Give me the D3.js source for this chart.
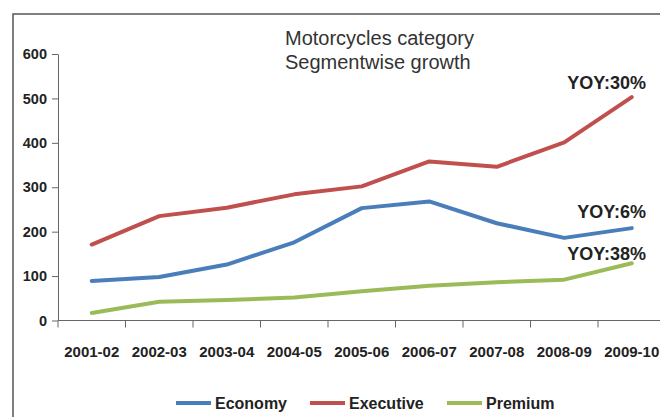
<!DOCTYPE html>
<html>
<head>
<meta charset="utf-8">
<script src="https://cdn.jsdelivr.net/npm/d3@7"></script>
<style>
  body { margin: 0; background: #fff; }
  svg text { font-family: "Liberation Sans", Arial, sans-serif; }
</style>
</head>
<body>
<div id="chart"></div>
<script>
var years = ["2001-02","2002-03","2003-04","2004-05","2005-06","2006-07","2007-08","2008-09","2009-10"];
var economy   = [89, 98, 126, 176, 253, 268, 219, 186, 208];
var executive = [171, 235, 254, 284, 302, 358, 346, 401, 503];
var premium   = [17, 42, 46, 52, 66, 78, 86, 92, 129];
var seriesNames = ["Economy", "Executive", "Premium"];
var yTicks = [0, 100, 200, 300, 400, 500, 600];
var yoyLabels = ["YOY:6%", "YOY:30%", "YOY:38%"];

var colors = d3.scaleOrdinal()
    .domain(seriesNames)
    .range(["#4a7ebb", "#c0504d", "#9bbb59"]);

var series = [economy, executive, premium].map(function(vals, i){
    return { name: seriesNames[i], values: vals, yoy: yoyLabels[i] };
});

var svg = d3.select("#chart").append("svg")
    .attr("width", 660)
    .attr("height", 417);

// outer frame (top and left edges show)
svg.append("path")
    .attr("d", "M13,417 L13,14 L660,14")
    .attr("fill", "none")
    .attr("stroke", "#555")
    .attr("stroke-width", 1.5);

var x = d3.scaleBand()
    .domain(years)
    .range([58, 58 + 9 * 67.5]);

var y = d3.scaleLinear()
    .domain([0, 600])
    .range([320.5, 54]);

// y axis
var yAxis = svg.append("g")
    .attr("transform", "translate(58,0)")
    .call(d3.axisLeft(y).tickValues(yTicks).tickSize(6).tickPadding(5).tickSizeOuter(0));
yAxis.select(".domain").attr("stroke", "#666");
yAxis.selectAll(".tick line").attr("stroke", "#666");
yAxis.selectAll("text")
    .attr("font-size", "14.5px")
    .attr("font-weight", "bold")
    .attr("fill", "#222")
    .attr("font-family", "Liberation Sans, Arial, sans-serif");

// x axis, ticks at band edges
var xAxis = svg.append("g")
    .attr("transform", "translate(0,320.5)");
xAxis.append("line")
    .attr("x1", 58).attr("x2", 660)
    .attr("stroke", "#666");
xAxis.selectAll(".edge")
    .data(years)
    .enter()
    .append("line")
    .attr("x1", function(d){ return x(d); })
    .attr("x2", function(d){ return x(d); })
    .attr("y1", 0).attr("y2", 7)
    .attr("stroke", "#666");
xAxis.selectAll(".lbl")
    .data(years)
    .enter()
    .append("text")
    .attr("x", function(d){ return x(d) + x.bandwidth() / 2; })
    .attr("y", 36)
    .attr("text-anchor", "middle")
    .attr("font-size", "15px")
    .attr("font-weight", "bold")
    .attr("fill", "#222")
    .text(function(d){ return d; });

var line = d3.line()
    .x(function(d, i){ return x(years[i]) + x.bandwidth() / 2; })
    .y(function(d){ return y(d); });

svg.selectAll(".series")
    .data(series)
    .enter()
    .append("path")
    .attr("fill", "none")
    .attr("stroke", function(d){ return colors(d.name); })
    .attr("stroke-width", 4)
    .attr("stroke-linejoin", "round")
    .attr("stroke-linecap", "round")
    .attr("d", function(d){ return line(d.values); });

// YOY labels near the last point
var yoyOffset = { "Economy": -10, "Executive": -8, "Premium": -3 };
svg.selectAll(".yoy")
    .data(series)
    .enter()
    .append("text")
    .attr("x", 646)
    .attr("y", function(d){ return y(d.values[d.values.length - 1]) + yoyOffset[d.name]; })
    .attr("text-anchor", "end")
    .attr("font-size", "18px")
    .attr("font-weight", "bold")
    .attr("fill", "#222")
    .text(function(d){ return d.yoy; });

// title
var title = svg.append("text")
    .attr("x", 285)
    .attr("y", 45)
    .attr("font-size", "20px")
    .attr("fill", "#333");
title.append("tspan").attr("x", 285).attr("dy", 0).text("Motorcycles category");
title.append("tspan").attr("x", 285).attr("dy", 24).text("Segmentwise growth");

// legend
var legendX = [176, 310, 447];
var legend = svg.selectAll(".legend")
    .data(series)
    .enter()
    .append("g")
    .attr("transform", function(d, i){ return "translate(" + legendX[i] + ",403)"; });
legend.append("line")
    .attr("x1", 0).attr("x2", 35)
    .attr("stroke", function(d){ return colors(d.name); })
    .attr("stroke-width", 4);
legend.append("text")
    .attr("x", 39)
    .attr("y", 6)
    .attr("font-size", "16px")
    .attr("font-weight", "bold")
    .attr("fill", "#222")
    .text(function(d){ return d.name; });
</script>
</body>
</html>
